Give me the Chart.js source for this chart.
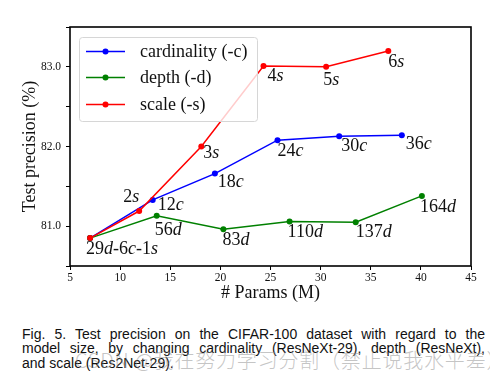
<!DOCTYPE html>
<html>
<head>
<meta charset="utf-8">
<script src="https://cdn.jsdelivr.net/npm/chart.js@4.4.1/dist/chart.umd.min.js"></script>
<style>
  html, body { margin:0; padding:0; background:#fff; }
  #wrap { position:relative; width:490px; height:383px; overflow:hidden; }
  #c { position:absolute; left:0; top:0; }
  #cap { position:absolute; left:22px; top:327px; width:463px; font-family:"Liberation Sans", Arial, sans-serif; font-size:14px; line-height:14.4px; color:#111; }
  #cap span { display:block; text-align:justify; text-align-last:justify; white-space:nowrap; }
  #cap span.last { text-align-last:left; }
  #wm { position:absolute; left:75px; top:349px; font-family:"Noto Sans CJK SC", sans-serif; font-weight:300; font-size:20px; line-height:22px; color:rgba(140,140,140,0.5); white-space:nowrap; letter-spacing:0.8px; }
</style>
</head>
<body>
<div id="wrap">
  <canvas id="c" width="490" height="310"></canvas>
  <div id="cap">
    <span>Fig. 5. Test precision on the CIFAR-100 dataset with regard to the</span>
    <span>model size, by changing cardinality (ResNeXt-29), depth (ResNeXt),</span>
    <span class="last">and scale (Res2Net-29).</span>
  </div>
  <div id="wm">CSDN @我在努力学习分割（禁止说我水平差）</div>
</div>
<script>
// ---- data ----
const seriesNames = ['cardinality (-c)', 'depth (-d)', 'scale (-s)'];
const cardX = [7, 13.25, 19.45, 25.7, 31.85, 38.1];
const cardY = [80.85, 81.33, 81.66, 82.08, 82.13, 82.14];
const cardLabels = ['', '12c', '18c', '24c', '30c', '36c'];
const depthX = [7, 13.65, 20.3, 26.9, 33.5, 40.1];
const depthY = [80.85, 81.13, 80.96, 81.06, 81.05, 81.38];
const depthLabels = ['29d-6c-1s', '56d', '83d', '110d', '137d', '164d'];
const scaleX = [7, 11.9, 18.1, 24.3, 30.55, 36.75];
const scaleY = [80.85, 81.19, 82.0, 83.01, 83.0, 83.2];
const scaleLabels = ['', '2s', '3s', '4s', '5s', '6s'];
const xTicks = [5, 10, 15, 20, 25, 30, 35, 40, 45];
const yTickLabels = ['81.0', '82.0', '83.0'];
const xTitle = '# Params (M)';
const yTitle = 'Test precision (%)';

// ---- styles ----
const colors = ['#0000ff', '#008000', '#ff0000'];
// label offsets (px) from each point: [dx, dy]
const labelOffsets = [
  [[0,0],[5,5],[3,8.5],[0,11],[2,10],[4,9]],
  [[-4,11.5],[-2,14],[-1,11],[-2,11],[0,10.5],[-2,11]],
  [[0,0],[-16,-14],[2,7],[4,10],[-3,13],[0,11]]
];
const SERIF = '"Liberation Serif", "Times New Roman", serif';

function pts(xs, ys){ return xs.map((x,i)=>({x:x, y:ys[i]})); }
const allLabels = [cardLabels, depthLabels, scaleLabels];

function drawMixed(ctx, text, x, y, size){
  let cx = x;
  const runs = text.match(/[a-zA-Z]+|[^a-zA-Z]+/g) || [];
  runs.forEach(r=>{
    const it = /[a-zA-Z]/.test(r);
    ctx.font = (it ? 'italic ' : '') + size + 'px ' + SERIF;
    ctx.fillText(r, cx, y);
    cx += ctx.measureText(r).width;
  });
}

const framePlugin = {
  id:'frame',
  afterDatasetsDraw(chart){
    const {ctx, chartArea:a, scales} = chart;
    ctx.save();
    // point labels
    ctx.fillStyle = '#111';
    ctx.textBaseline = 'middle';
    ctx.textAlign = 'left';
    chart.data.datasets.forEach((ds)=>{
      const si = ds.seriesIndex;
      ds.data.forEach((p,i)=>{
        const t = allLabels[si][i];
        if(!t) return;
        const px = scales.x.getPixelForValue(p.x), py = scales.y.getPixelForValue(p.y);
        const off = labelOffsets[si][i];
        drawMixed(ctx, t, px+off[0], py+off[1], 18);
      });
    });
    // legend
    const lx = 79.5, ly = 37.5, lw = 178, lh = 84, r = 3;
    ctx.beginPath();
    ctx.moveTo(lx+r, ly); ctx.lineTo(lx+lw-r, ly); ctx.arcTo(lx+lw, ly, lx+lw, ly+r, r);
    ctx.lineTo(lx+lw, ly+lh-r); ctx.arcTo(lx+lw, ly+lh, lx+lw-r, ly+lh, r);
    ctx.lineTo(lx+r, ly+lh); ctx.arcTo(lx, ly+lh, lx, ly+lh-r, r);
    ctx.lineTo(lx, ly+r); ctx.arcTo(lx, ly, lx+r, ly, r);
    ctx.closePath();
    ctx.fillStyle = 'rgba(255,255,255,0.8)';
    ctx.fill();
    ctx.strokeStyle = '#d6d6d6';
    ctx.lineWidth = 1;
    ctx.stroke();
    const rows = [51.5, 77.5, 104.5];
    seriesNames.forEach((n,i)=>{
      ctx.strokeStyle = colors[i]; ctx.lineWidth = 1.5;
      ctx.beginPath(); ctx.moveTo(86, rows[i]); ctx.lineTo(125, rows[i]); ctx.stroke();
      ctx.fillStyle = colors[i];
      ctx.beginPath(); ctx.arc(105.5, rows[i], 3, 0, Math.PI*2); ctx.fill();
      ctx.fillStyle = '#111';
      ctx.font = '18px ' + SERIF;
      ctx.fillText(n, 140, rows[i]+0.5);
    });
    // frame
    ctx.strokeStyle = '#000'; ctx.lineWidth = 1.6;
    ctx.strokeRect(a.left, a.top, a.right-a.left, a.bottom-a.top);
    // axis titles
    ctx.fillStyle = '#111';
    ctx.font = '18px ' + SERIF;
    ctx.textAlign = 'center'; ctx.textBaseline = 'middle';
    ctx.fillText(xTitle, (a.left+a.right)/2, 293);
    ctx.translate(30, (a.top+a.bottom)/2);
    ctx.rotate(-Math.PI/2);
    ctx.fillText(yTitle, 0, 0);
    ctx.restore();
  }
};

const mk = (label, xs, ys, idx, order) => ({
  label, data: pts(xs, ys), seriesIndex: idx, order,
  borderColor: colors[idx], backgroundColor: colors[idx],
  borderWidth: 1.5, pointRadius: 3, pointHoverRadius: 3, pointBorderWidth: 0,
  tension: 0, fill: false
});

new Chart(document.getElementById('c'), {
  type: 'line',
  data: { datasets: [
    mk(seriesNames[0], cardX, cardY, 0, 2),
    mk(seriesNames[1], depthX, depthY, 1, 1),
    mk(seriesNames[2], scaleX, scaleY, 2, 0)
  ]},
  options: {
    responsive:false, animation:false,
    layout:{ padding:{ top:27, right:19, left:0, bottom:0 } },
    plugins:{ legend:{display:false}, tooltip:{enabled:false} },
    scales:{
      x:{
        type:'linear', min:5, max:45,
        afterBuildTicks(s){ s.ticks = xTicks.map(v=>({value:v})); },
        afterFit(s){ s.height = 44; },
        border:{display:false},
        grid:{display:true, drawOnChartArea:false, drawTicks:true, tickLength:4, color:'#000', lineWidth:1},
        ticks:{ color:'#111', padding:1, font:{family:SERIF, size:11.5}, maxRotation:0, callback:(v)=>String(v) }
      },
      y:{
        type:'linear', min:80.5, max:83.5,
        ticks:{ stepSize:0.5, color:'#111', padding:5, font:{family:SERIF, size:11.5},
          callback:(v)=>{ const s = v.toFixed(1); return yTickLabels.includes(s) ? s : ''; } },
        afterFit(s){ s.width = 70; },
        border:{display:false},
        grid:{display:true, drawOnChartArea:false, drawTicks:true, tickLength:4, color:'#000', lineWidth:1}
      }
    }
  },
  plugins:[framePlugin]
});
</script>
</body>
</html>
